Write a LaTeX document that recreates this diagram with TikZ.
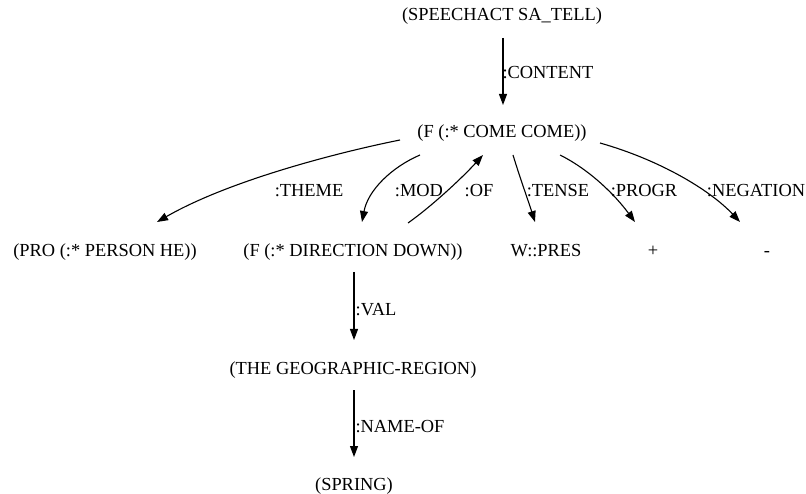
\documentclass[tikz,border=0pt]{standalone}
\usepackage{fontspec}
\setmainfont{Liberation Serif}
\usetikzlibrary{arrows.meta}
\tikzset{
  lbl/.style={anchor=base, inner sep=0pt, font=\fontsize{18.4}{22}\selectfont},
  elbl/.style={anchor=base, inner sep=0pt, font=\fontsize{18.4}{22}\selectfont},
  conn/.style={line width=1.1pt, -{Triangle[length=11pt,width=8pt]}}
}
\begin{document}
\begin{tikzpicture}[x=1pt,y=-1pt]
\useasboundingbox (0,0) rectangle (806,494);
% nodes (base line positions)
\node[lbl] (sa) at (502,21) {(SPEECHACT SA\_TELL)};
\node[lbl] (come) at (502,138) {(F (:* COME COME))};
\node[lbl] (pro) at (105,257) {(PRO (:* PERSON HE))};
\node[lbl] (dir) at (353,257) {(F (:* DIRECTION DOWN))};
\node[lbl] (pres) at (546,257) {W::PRES};
\node[lbl] (plus) at (653,257) {+};
\node[lbl] (minus) at (767,257) {-};
\node[lbl] (geo) at (353,374) {(THE GEOGRAPHIC-REGION)};
\node[lbl] (spring) at (354,490) {(SPRING)};
% edge labels
\node[elbl] (lcontent) at (548,79) {:CONTENT};
\node[elbl] (ltheme) at (309,197) {:THEME};
\node[elbl] (lmod) at (419,197) {:MOD};
\node[elbl] (lof) at (479,197) {:OF};
\node[elbl] (ltense) at (558,197) {:TENSE};
\node[elbl] (lprogr) at (644,197) {:PROGR};
\node[elbl] (lneg) at (756,197) {:NEGATION};
\node[elbl] (lval) at (376,316) {:VAL};
\node[elbl] (lname) at (400,432) {:NAME-OF};
% connectors
\draw[conn] ([shift={(1,17)}]sa.base) -- ([shift={(1,-33)}]come.base);
\draw[conn] ([shift={(-102,2)}]come.base) .. controls (340,152) and (230,180) .. ([shift={(52,-35)}]pro.base);
\draw[conn] ([shift={(-82,17)}]come.base) .. controls (392,167) and (368,190) .. ([shift={(9,-35)}]dir.base);
\draw[conn] ([shift={(55,-34)}]dir.base) .. controls (432,206) and (462,178) .. ([shift={(-19,17)}]come.base);
\draw[conn] ([shift={(11,17)}]come.base) .. controls (520,178) and (528,200) .. ([shift={(-11,-35)}]pres.base);
\draw[conn] ([shift={(58,17)}]come.base) .. controls (590,170) and (615,195) .. ([shift={(-18,-35)}]plus.base);
\draw[conn] ([shift={(98,5)}]come.base) .. controls (660,160) and (710,190) .. ([shift={(-27,-35)}]minus.base);
\draw[conn] ([shift={(1,15)}]dir.base) -- ([shift={(1,-34)}]geo.base);
\draw[conn] ([shift={(1,16)}]geo.base) -- ([shift={(0,-33)}]spring.base);
\end{tikzpicture}
\end{document}
